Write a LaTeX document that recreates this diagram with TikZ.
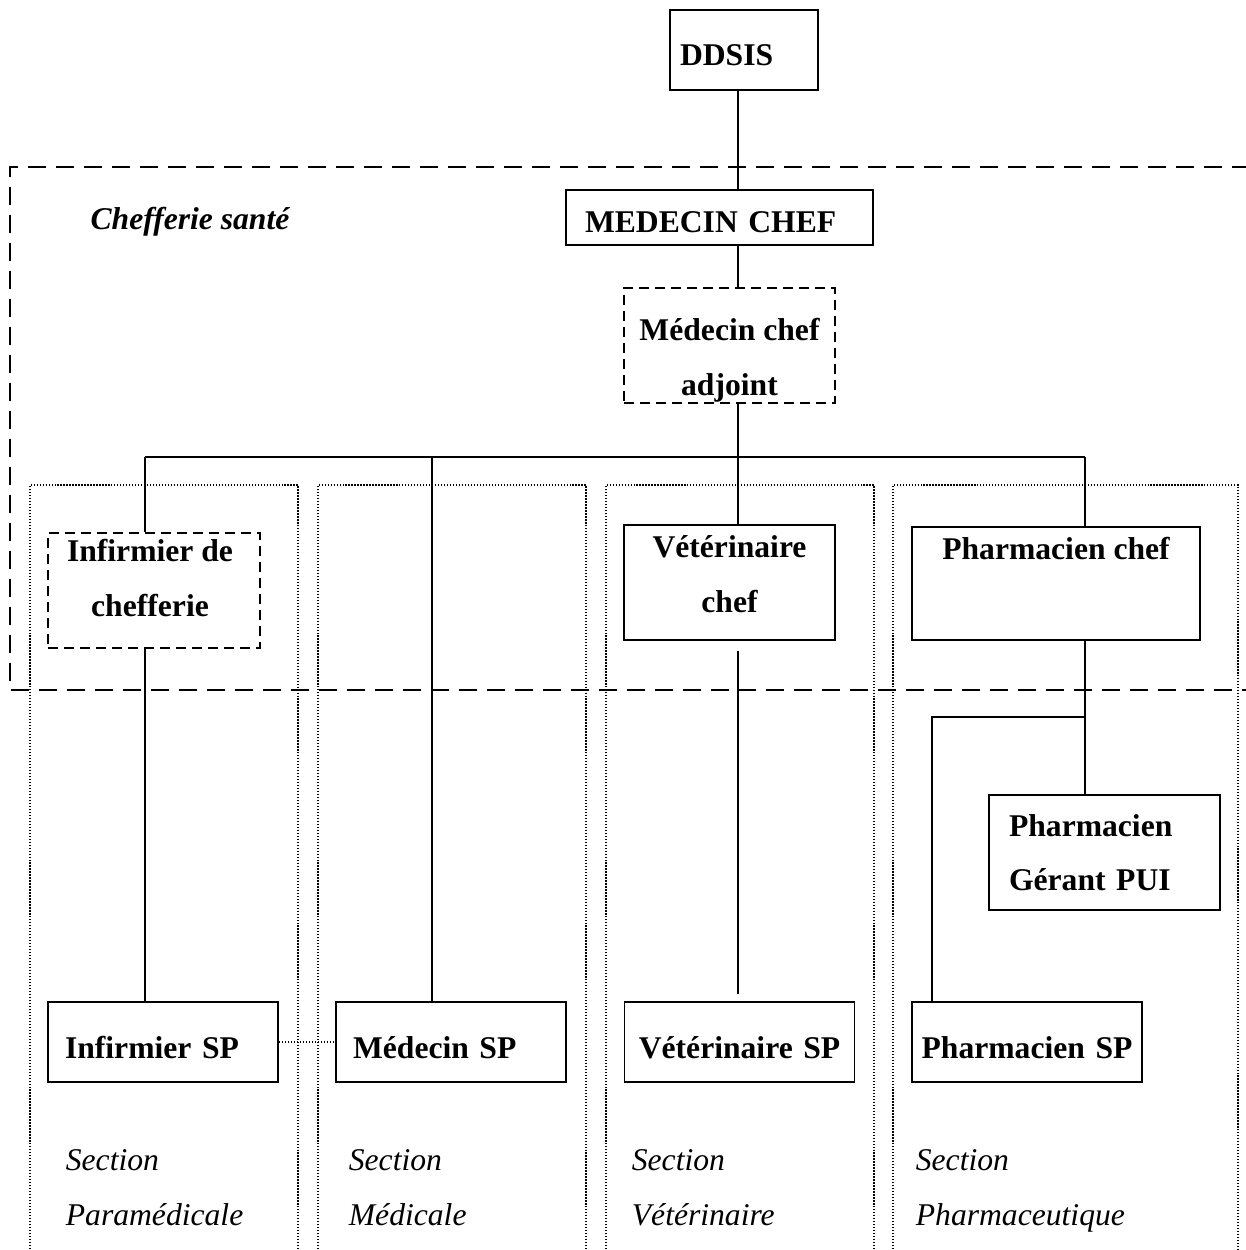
\documentclass[tikz,border=0pt]{standalone}
\usepackage{fontspec}
\setmainfont{Liberation Serif}
\usepackage{tikz}
\usetikzlibrary{calc}
\newcommand{\orgfont}{\fontsize{18}{31}\selectfont\bfseries}
\newcommand{\secfont}{\fontsize{18}{31}\selectfont\itshape}

\begin{document}
\begin{tikzpicture}[x=0.02cm,y=-0.02cm,line width=1pt,
  orgbox/.style={draw,line width=1.1pt,align=center,font=\orgfont,inner sep=0pt},
  adjbox/.style={orgbox,dash pattern=on 0.2cm off 0.12cm},
  boxtext/.style={align=center,font=\orgfont,inner sep=0pt},
  spbox/.style={orgbox,align=left,text width=3.92cm,inner xsep=0.34cm,minimum height=1.6cm,lower=19pt},
  spwide/.style={spbox,align=center,text width=4.4cm,inner xsep=0.1cm},
  lower/.style={execute at begin node={\rule{0pt}{#1}}},
  zone/.style={line width=1.1pt,dash pattern=on 0.36cm off 0.2cm},
  column/.style={line width=0.7pt,densely dotted},
  seclabel/.style={anchor=west,align=left,font=\secfont,inner sep=0pt}]
\useasboundingbox (0,0) rectangle (1246,1250);
\draw[zone] (1250,167)--(10,167)--(10,690)--(1250,690);
\node[font=\fontsize{18}{31}\selectfont\bfseries\itshape] (zonelabel) at (190,222) {Chefferie santé};
\draw[column] (30,1252)--(30,485)--(298,485)--(298,1252);
\draw[column] (318,1252)--(318,485)--(586,485)--(586,1252);
\draw[column] (606,1252)--(606,485)--(874,485)--(874,1252);
\draw[column] (893,1252)--(893,485)--(1238,485)--(1238,1252);
\node[orgbox,align=left,text width=2.56cm,inner xsep=0.2cm,minimum height=1.6cm,lower=17.6pt] (ddsis) at (744,50) {DDSIS};
\node[orgbox,align=left,text width=5.38cm,inner xsep=0.38cm,minimum height=1.1cm,lower=17.6pt] (medchef) at (719.5,217.5) {MEDECIN CHEF};
\node[adjbox,minimum width=4.22cm,minimum height=2.3cm] (adjoint) at (729.5,345.5) {};
\node[boxtext] (adjointtext) at (729.5,357) {Médecin chef\strut\\adjoint\strut};
\node[adjbox,minimum width=4.24cm,minimum height=2.3cm] (infchef) at (154,590.5) {};
\node[boxtext] (infcheftext) at (150,578) {Infirmier de\strut\\chefferie\strut};
\node[orgbox,minimum width=4.22cm,minimum height=2.3cm] (vetchef) at (729.5,582.5) {};
\node[boxtext] (vetcheftext) at (729.5,574) {Vétérinaire\strut\\chef\strut};
\node[orgbox,minimum width=5.76cm,minimum height=2.26cm] (pharchef) at (1056,583.5) {Pharmacien chef\\\strut};
\node[orgbox,align=left,text width=3.82cm,inner xsep=0.4cm,minimum height=2.3cm] (pui) at (1104.5,852.5) {Pharmacien\strut\\Gérant PUI\strut};
\node[spbox] (infsp) at (163,1042) {Infirmier SP};
\node[spbox] (medsp) at (451,1042) {Médecin SP};
\node[spwide] (vetsp) at (739.5,1042) {Vétérinaire SP};
\node[spwide] (pharsp) at (1027,1042) {Pharmacien SP};
\node[seclabel] (secpara) at (65,1187) {Section\strut\\Paramédicale\strut};
\node[seclabel] (secmed) at (348,1187) {Section\strut\\Médicale\strut};
\node[seclabel] (secvet) at (631,1187) {Section\strut\\Vétérinaire\strut};
\node[seclabel] (secphar) at (915,1187) {Section\strut\\Pharmaceutique\strut};
\coordinate (spine) at (738,457);
\coordinate (busL) at (145,457);
\coordinate (busM) at (432,457);
\coordinate (busR) at (1085,457);
\coordinate (pharjoin) at (1085,717);
\coordinate (pharL) at (932,717);
\draw (spine |- ddsis.south)--(spine |- medchef.north);
\draw (spine |- medchef.south)--(spine |- adjoint.north);
\draw (spine |- adjoint.south)--(spine |- vetchef.north);
\draw (busL)--(busR);
\draw (busL)--(busL |- infchef.north);
\draw (busM)--(busM |- medsp.north);
\draw (busR)--(busR |- pharchef.north);
\draw (busL |- infchef.south)--(busL |- infsp.north);
\draw[shorten <=0.2cm,shorten >=0.14cm] (spine |- vetchef.south)--(spine |- vetsp.north);
\draw (busR |- pharchef.south)--(busR |- pui.north);
\draw (pharjoin)--(pharL)--(pharL |- pharsp.north);
\draw[column] (infsp.east)--(medsp.west);
\end{tikzpicture}
\end{document}
